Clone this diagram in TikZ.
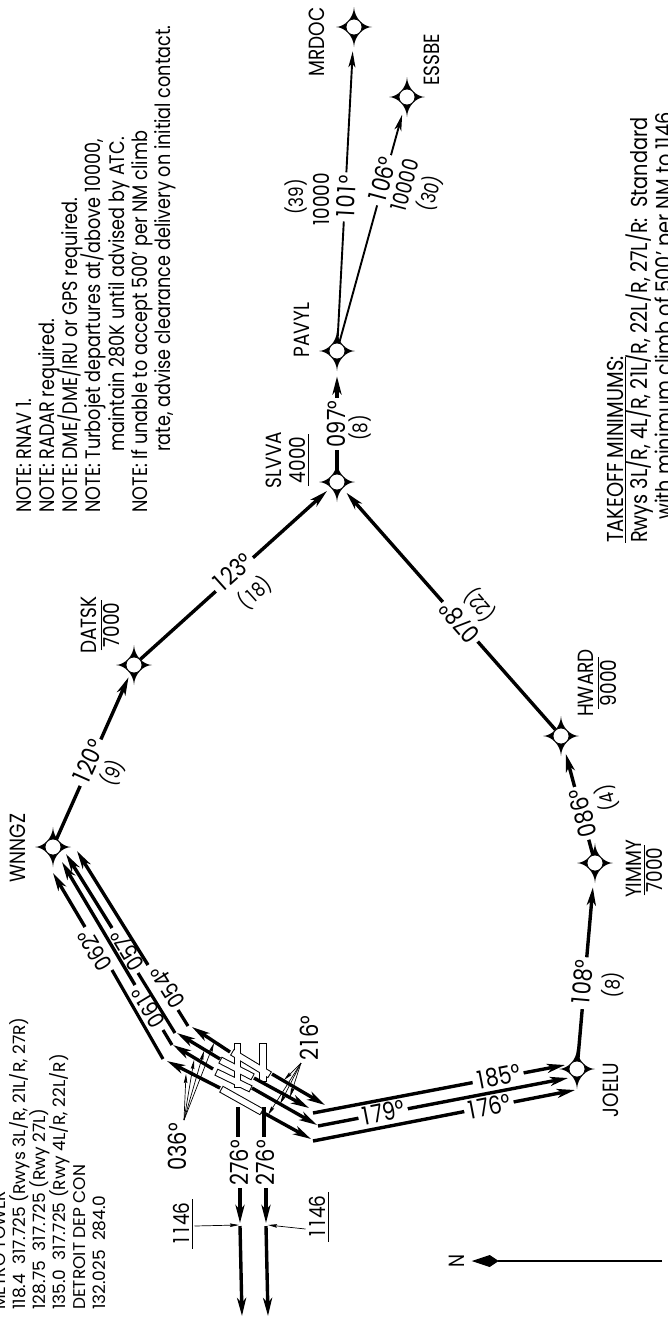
\documentclass[tikz,border=0pt]{standalone}
\usepackage{fontspec}
\setmainfont[FakeStretch=0.84]{Poppins}
\newfontfamily\wideface{Poppins}
\usetikzlibrary{arrows.meta}
\setlength{\lineskiplimit}{-100pt}
\newcommand{\oneg}{\kern2pt 1\kern2pt}
\tikzstyle{waypoint} = [circle, minimum size=16pt, inner sep=0pt, draw=black, fill=white, line width=0.8pt]
\tikzstyle{leg} = [line width=3.4pt, -{Stealth[length=18pt,width=9pt,inset=5pt]}]
\tikzstyle{plainleg} = [line width=3.2pt]
\tikzstyle{thinleg} = [line width=1.9pt, -{Stealth[length=16pt,width=7pt,inset=4pt]}]
\tikzstyle{leader} = [line width=0.7pt, -{Stealth[length=9pt,width=3.5pt,inset=1pt]}]
\tikzstyle{fixname} = [rotate=90, inner sep=0pt, text height=15pt, text depth=0pt, font=\fontsize{22}{24}\selectfont]
\tikzstyle{altitude} = [fixname, outer sep=3pt]
\tikzstyle{degree} = [inner xsep=3pt, inner ysep=0pt, fill=white, text height=17pt, text depth=0pt, font=\fontsize{25}{27}\selectfont]
\tikzstyle{bare} = [degree, fill=none]
\tikzstyle{tight} = [bare, text height=16pt, font=\fontsize{23}{25}\selectfont]
\tikzstyle{miles} = [inner sep=0pt, font=\fontsize{20}{22}\selectfont]
\tikzstyle{notes} = [rotate=90, inner sep=0pt, align=left, anchor=north west]
\begin{document}
\begin{tikzpicture}[x=1pt,y=-1pt]
\useasboundingbox (0,0) rectangle (667,1317);

% Runways
\foreach \ax/\ay/\bx/\by in {237.5/1043/237.5/1088, 263/1043/263/1082, 232/1052/270/1075, 220/1060/253/1077, 216/1072/251/1089, 221/1089/262/1112}
  \draw[line width=7.5pt] (\ax,\ay) -- (\bx,\by);
\foreach \ax/\ay/\bx/\by in {237.5/1043/237.5/1088, 263/1043/263/1082, 232/1052/270/1075, 220/1060/253/1077, 216/1072/251/1089, 221/1089/262/1112}
  \draw[line width=5.5pt, white, shorten <=1pt, shorten >=1pt] (\ax,\ay) -- (\bx,\by);

% Waypoints
\foreach \nm/\px/\py in {mrdoc/354/27, essbe/407/97, pavyl/337/351, slvva/337/482, datsk/134/665, wnngz/53/847, joelu/577/1069, yimmy/595/863, hward/561/736} {
  \fill[shift={(\px,\py)}] (0,-20) .. controls (0.5,-9) and (9,-0.5) .. (18,0) .. controls (9,0.5) and (0.5,9) .. (0,20) .. controls (-0.5,9) and (-9,0.5) .. (-18,0) .. controls (-9,-0.5) and (-0.5,-9) .. cycle;
  \node[waypoint] (\nm) at (\px,\py) {};
}

% Enroute legs
\draw[leg, shorten >=5pt] (wnngz) -- (datsk);
\node[degree, rotate=66] (c120) at (89,762) {\oneg 20°};
\node[miles, rotate=66] (m9) at (113,773) {(9)};
\draw[leg, shorten >=5pt] (datsk) -- (slvva);
\node[degree, rotate=42] (c123) at (233,573) {\oneg 23°};
\node[miles, rotate=42] (m18) at (255,593) {(\oneg 8)};
\draw[leg, shorten >=17pt] (slvva) -- (pavyl);
\node[degree, rotate=90] (c097) at (337,424) {097°};
\node[miles, rotate=90] (m8a) at (360,428) {(8)};
\draw[thinleg, shorten >=16pt] (pavyl) -- (mrdoc);
\node[degree, rotate=87] (c101) at (347,197) {\oneg 0\oneg°};
\node[fixname, rotate=0] (a10000) at (322,199) {10000};
\node[miles, rotate=90] (m39) at (296,197) {(39)};
\draw[thinleg, shorten >=10pt] (pavyl) -- (essbe);
\node[degree, rotate=75] (c106) at (383,180) {\oneg 06°};
\node[fixname, rotate=-15] (b10000) at (405,185) {10000};
\node[miles, rotate=75] (m30) at (430,193) {(30)};
\draw[leg, shorten >=16pt] (joelu) -- (yimmy);
\node[degree, rotate=85] (c108) at (583,983) {\oneg 08°};
\node[miles, rotate=85] (m8b) at (613,985) {(8)};
\draw[leg, shorten >=10pt] (yimmy) -- (hward);
\node[degree, rotate=105] (c086) at (583,813) {086°};
\node[miles, rotate=105] (m4) at (607,798) {(4)};
\draw[leg, shorten >=6pt] (hward) -- (slvva);
\node[degree, rotate=131] (c078) at (460,622) {078°};
\node[miles, rotate=131] (m22) at (480,605) {(22)};

% Legs to JOELU
\foreach \nm/\px/\py in {barA/313/1113, barB/318/1126, barC/313/1141, tipA/565/1065, tipB/568/1078, tipC/575/1090}
  \coordinate (\nm) at (\px,\py);
\draw[leg] (barA) -- (tipA);
\draw[leg] (barB) -- (tipB);
\draw[leg] (barC) -- (tipC);
\node[degree, rotate=11] (c185) at (498,1077) {\oneg 85°};
\node[degree, rotate=11] (c179) at (383,1113) {\oneg 79°};
\node[degree, rotate=11] (c176) at (489,1107) {\oneg 76°};

% Runway headings
\foreach \ax/\ay/\bx/\by in {272/1074/325/1105, 254/1078/309/1108, 252/1088/317/1125, 262/1112/311/1139, 230/1052/192/1027, 220/1059/177/1033, 213/1069/173/1045, 220/1088/167/1061}
  \draw[leg] (\ax,\ay) -- (\bx,\by);

% Legs to WNNGZ
\draw[plainleg] (188,1026) -- (178,1010);
\draw[leg] (148,965) -- (77,851);
\node[tight, rotate=122] (c054) at (168,987) {054°};
\draw[plainleg] (175,1033) -- (138,973);
\draw[leg] (112,928) -- (66,854);
\node[tight, rotate=121] (c057) at (128,950) {057°};
\draw[plainleg] (172,1045) -- (163,1030);
\draw[leg] (135,985) -- (62,862);
\node[tight, rotate=121] (c061) at (149,1007) {06\oneg°};
\draw[plainleg] (163,1059) -- (112,970);
\draw[leg] (85,927) -- (53,873);
\node[tight, rotate=121] (c062) at (95,950) {062°};

% Course leaders
\node[bare, rotate=90] (c036) at (178,1147) {036°};
\node[bare, rotate=90] (c216) at (310,1038) {2\oneg 6°};
\foreach \px/\py in {186/1074, 194/1060, 204/1051, 214/1043}
  \draw[leader] (184,1120) -- (\px,\py);
\foreach \px/\py in {284/1080, 290/1097, 280/1104, 268/1115}
  \draw[leader] (301,1063) -- (\px,\py);

% Departures
\foreach \sx/\ex/\nm in {238/240/a, 264/266/b} {
  \draw[plainleg] (\sx,1107) -- (\sx,1140);
  \node[degree, rotate=90] (d276\nm) at (\ex,1163) {276°};
  \draw[leg] (\ex,1188) -- (\ex,1223);
  \draw[leg] (\ex,1226) -- (\ex+2,1316);
}
\node[fixname, outer sep=3pt] (altL) at (182,1224) {\oneg\oneg 46};
\draw[line width=0.8pt] (altL.south west) -- (altL.south east);
\draw[leader] (altL.south) ++(2,2) -- (239,1225);
\node[fixname, outer sep=3pt] (altR) at (318,1217) {\oneg\oneg 46};
\draw[line width=0.8pt] (altR.south west) -- (altR.south east);
\draw[leader] (altR.north) ++(-2,12) -- (268,1225);

% Fix names
\node[fixname] (nwnngz) at (18,848) {WNNGZ};
\node[fixname] (nmrdoc) at (317,42) {MRDOC};
\node[fixname] (nessbe) at (432,60) {ESSBE};
\node[fixname] (npavyl) at (302,330) {PAVYL};
\node[fixname] (nslvva) at (274,460) {SLVVA};
\node[altitude] (aslvva) at (298,460) {4000};
\draw[line width=0.8pt] (aslvva.south west) -- (aslvva.south east);
\node[fixname] (ndatsk) at (89,625) {DATSK};
\node[altitude] (adatsk) at (112,625) {7000};
\draw[line width=0.8pt] (adatsk.north west) -- (adatsk.north east);
\node[fixname] (nhward) at (586,683) {HWARD};
\node[altitude] (ahward) at (609,683) {9000};
\draw[line width=0.8pt] (ahward.north west) -- (ahward.north east);
\node[fixname] (nyimmy) at (634,869) {YIMMY};
\node[altitude] (ayimmy) at (655,870) {7000};
\draw[line width=0.8pt] (ayimmy.north west) -- (ayimmy.north east);
\node[fixname] (njoelu) at (611,1090) {JOELU};

% North arrow
\node[fixname] (north) at (457,1261) {N};
\coordinate (tail) at (662,1261);
\draw[line width=1.2pt, -{Kite[length=27pt,width=12pt,inset=9pt]}, shorten >=7pt] (tail) -- (north);

% Text blocks
\node[notes, font=\fontsize{21}{23.2}\selectfont] (notesblock) at (16,513) {NOTE: RNAV 1.\\
NOTE: RADAR required.\\
NOTE: DME/DME/IRU or GPS required.\\
NOTE: Turbojet departures at/above 10000,\\
\hspace*{61pt}maintain 280K until advised by ATC.\\
NOTE: If unable to accept 500' per NM climb\\
\hspace*{61pt}rate, advise clearance delivery on initial contact.};

\node[notes, font=\wideface\fontsize{17}{20}\selectfont] (comms) at (-7,1310) {METRO TOWER\\
118.4~~317.725 (Rwys 3L/R, 21L/R, 27R)\\
128.75~~317.725 (Rwy 27L)\\
135.0~~317.725 (Rwy 4L/R, 22L/R)\\
DETROIT DEP CON\\
132.025~~284.0};

\node[notes, font=\fontsize{23}{24.5}\selectfont] (minimums) at (607,543) {\underline{TAKEOFF MINIMUMS:}\\
Rwys 3L/R, 4L/R, 21L/R, 22L/R, 27L/R:~~Standard\\
\hspace*{23pt}with minimum climb of 500' per NM to 1146.};
\end{tikzpicture}
\end{document}
